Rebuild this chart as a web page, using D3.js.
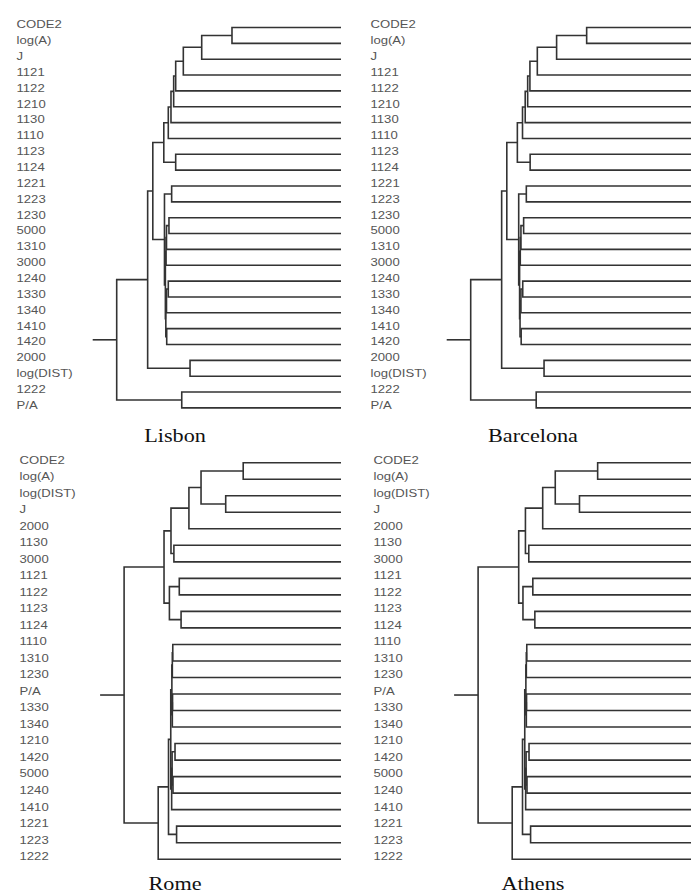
<!DOCTYPE html>
<html>
<head>
<meta charset="utf-8">
<script src="https://cdn.jsdelivr.net/npm/d3@7"></script>
<style>
  html, body { margin: 0; padding: 0; background: #fff; }
  svg { display: block; }
</style>
</head>
<body>
<svg id="chart" width="691" height="894"></svg>
<script>
// ---------- DATA ----------
const cities = ["Lisbon", "Barcelona", "Rome", "Athens"];

const lisbonLabels = ["CODE2","log(A)","J","1121","1122","1210","1130","1110","1123","1124",
  "1221","1223","1230","5000","1310","3000","1240","1330","1340","1410","1420",
  "2000","log(DIST)","1222","P/A"];
// merges: [childA, childB, height]; string = leaf label, number = index of earlier merge
const lisbonMerges = [
  ["CODE2","log(A)",4.86], [0,"J",6.21], [1,"1121",7.03], [2,"1122",7.37],
  [3,"1210",7.46], [4,"1130",7.58], [5,"1110",7.70], ["1123","1124",7.37],
  [6,7,7.90], ["1221","1223",7.55], ["1230","5000",7.67], [10,"1310",7.78],
  [11,"3000",7.80], ["1240","1330",7.70], [13,"1340",7.78], ["1410","1420",7.77],
  [14,15,7.81], [12,16,7.83], [9,17,7.87], [8,18,8.39],
  ["2000","log(DIST)",6.73], [19,20,8.62], ["1222","P/A",7.10], [21,22,10.00]
];

const barcelonaLabels = ["CODE2","log(A)","J","1121","1122","1210","1130","1110","1123","1124",
  "1221","1223","1230","5000","1310","3000","1240","1330","1340","1410","1420",
  "2000","log(DIST)","1222","P/A"];
const barcelonaMerges = [
  ["CODE2","log(A)",4.83], [0,"J",6.17], [1,"1121",7.03], [2,"1122",7.36],
  [3,"1210",7.46], [4,"1130",7.57], [5,"1110",7.69], ["1123","1124",7.35],
  [6,7,7.92], ["1221","1223",7.52], ["1230","5000",7.64], [10,"1310",7.76],
  [11,"3000",7.79], ["1240","1330",7.68], [13,"1340",7.76], ["1410","1420",7.75],
  [14,15,7.80], [12,16,7.82], [9,17,7.86], [8,18,8.39],
  ["2000","log(DIST)",6.73], [19,20,8.62], ["1222","P/A",7.08], [21,22,10.00]
];

const romeLabels = ["CODE2","log(A)","log(DIST)","J","2000","1130","3000","1121","1122","1123",
  "1124","1110","1310","1230","P/A","1330","1340","1210","1420","5000","1240","1410",
  "1221","1223","1222"];
const romeMerges = [
  ["CODE2","log(A)",4.36], ["log(DIST)","J",5.14], [0,1,6.24], [2,"2000",6.78],
  ["1130","3000",7.45], [3,4,7.58], ["1121","1122",7.21], ["1123","1124",7.13],
  [6,7,7.65], [5,8,7.89], ["1110","1310",7.50], [10,"1230",7.52],
  ["P/A","1330",7.51], [12,"1340",7.52], [11,13,7.54], ["1210","1420",7.40],
  ["5000","1240",7.49], [15,16,7.53], [17,"1410",7.55], [14,18,7.59],
  ["1221","1223",7.33], [19,20,7.69], [21,"1222",8.15], [9,22,9.67]
];

const athensLabels = ["CODE2","log(A)","log(DIST)","J","2000","1130","3000","1121","1122","1123",
  "1124","1110","1310","1230","P/A","1330","1340","1210","1420","5000","1240","1410",
  "1221","1223","1222"];
const athensMerges = [
  ["CODE2","log(A)",4.34], ["log(DIST)","J",5.15], [0,1,6.23], [2,"2000",6.79],
  ["1130","3000",7.41], [3,4,7.56], ["1121","1122",7.23], ["1123","1124",7.14],
  [6,7,7.67], [5,8,7.86], ["1110","1310",7.50], [10,"1230",7.52],
  ["P/A","1330",7.51], [12,"1340",7.52], [11,13,7.54], ["1210","1420",7.40],
  ["5000","1240",7.49], [15,16,7.53], [17,"1410",7.55], [14,18,7.59],
  ["1221","1223",7.33], [19,20,7.69], [21,"1222",8.15], [9,22,9.67]
];

const rootStub = 1.07;   // length of the stub drawn left of each root, in height units

// ---------- LAYOUT ----------
const layout = [
  { labels: lisbonLabels,    merges: lisbonMerges,    dx: 0,   labelX: 16.5,  y0: 27.5,  y1: 407.9, capX: 175, capY: 442 },
  { labels: barcelonaLabels, merges: barcelonaMerges, dx: 354, labelX: 370.5, y0: 27.5,  y1: 407.9, capX: 533, capY: 442 },
  { labels: romeLabels,      merges: romeMerges,      dx: 0,   labelX: 19.5,  y0: 462.7, y1: 859.2, capX: 175, capY: 890 },
  { labels: athensLabels,    merges: athensMerges,    dx: 354, labelX: 373.5, y0: 462.7, y1: 859.2, capX: 533, capY: 890 }
];

const svg = d3.select("#chart");

layout.forEach((p, i) => {
  const g = svg.append("g");
  const x = d3.scaleLinear().domain([0, 10]).range([341 + p.dx, 116.7 + p.dx]);
  const y = d3.scalePoint().domain(p.labels).range([p.y0, p.y1]);

  const nodes = [];
  const pos = c => typeof c === "string" ? { x: x(0), y: y(c) } : nodes[c];
  const segs = [];
  p.merges.forEach(([a, b, h]) => {
    const A = pos(a), B = pos(b);
    const nx = x(h), ny = (A.y + B.y) / 2;
    nodes.push({ x: nx, y: ny, h });
    segs.push(`M${A.x},${A.y}H${nx}V${B.y}H${B.x}`);
  });
  const root = nodes[nodes.length - 1];
  segs.push(`M${root.x},${root.y}H${x(root.h + rootStub)}`);

  g.selectAll("path.link").data(segs).join("path")
    .attr("class", "link")
    .attr("d", d => d)
    .attr("fill", "none")
    .attr("stroke", "#333")
    .attr("stroke-width", 1.6);

  const lg = g.append("g").attr("transform", `translate(${p.labelX},0) scale(1.25,1)`);
  lg.selectAll("text.leaf").data(p.labels).join("text")
    .attr("class", "leaf")
    .attr("x", 0)
    .attr("y", d => y(d) - 2.8)
    .attr("dy", "0.35em")
    .attr("font-family", "Liberation Sans, Arial, sans-serif")
    .attr("font-size", 10.5)
    .attr("fill", "#555")
    .text(d => d);

  svg.append("text")
    .attr("transform", `translate(${p.capX},${p.capY}) scale(1.2,1)`)
    .attr("text-anchor", "middle")
    .attr("font-family", "Liberation Serif, serif")
    .attr("font-size", 18.5)
    .attr("fill", "#111")
    .text(cities[i]);
});
</script>
</body>
</html>
